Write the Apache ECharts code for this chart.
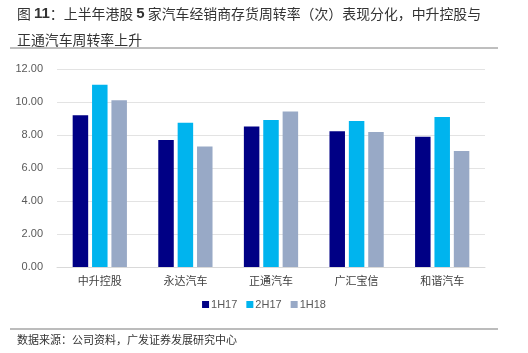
<!DOCTYPE html>
<html>
<head>
<meta charset="utf-8">
<script src="https://cdn.jsdelivr.net/npm/echarts@6/dist/echarts.min.js"></script>
<style>
html,body{margin:0;padding:0;background:#fff;}
#main{width:528px;height:353px;}
</style>
</head>
<body>
<div id="main"></div>
<script>
// 港股经销商存货周转率（次）
var categories = ['中升控股', '永达汽车', '正通汽车', '广汇宝信', '和谐汽车'];
var seriesNames = ['1H17', '2H17', '1H18'];
var v1H17 = [9.19, 7.70, 8.51, 8.22, 7.90];
var v2H17 = [11.05, 8.75, 8.91, 8.85, 9.09];
var v1H18 = [10.10, 7.30, 9.42, 8.18, 7.03];
var yTicks = [0, 2, 4, 6, 8, 10, 12];

var colors = ['#000085', '#00B4EE', '#98A9C6'];
var cjk = '"Noto Sans CJK SC", sans-serif';

var dom = document.getElementById('main');
var chart = echarts.init(dom);

function bar(name, data, i) {
	return {
		name: name,
		type: 'bar',
		data: data,
		barWidth: 15.5,
		barGap: '25%',
		itemStyle: { color: colors[i] }
	};
}

var option = {
	animation: false,
	title: {
		left: 17,
		top: 1,
		padding: 0,
		text: '图 {b|11}：上半年港股 {b|5} 家汽车经销商存货周转率（次）表现分化，中升控股与\n正通汽车周转率上升',
		textStyle: {
			fontFamily: cjk,
			fontSize: 13.9,
			fontWeight: 'normal',
			color: '#333',
			lineHeight: 26,
			rich: {
				b: { fontFamily: 'Liberation Sans', fontWeight: 'bold', fontSize: 15, color: '#333', lineHeight: 26 }
			}
		}
	},
	legend: {
		data: seriesNames,
		bottom: 38,
		left: 'center',
		itemWidth: 7,
		itemHeight: 7,
		itemGap: 9,
		icon: 'rect',
		textStyle: { fontFamily: 'Liberation Sans', fontSize: 11, color: '#595959', padding: [0, 0, 0, -3] }
	},
	grid: { left: 57, right: 43, top: 69, bottom: 86, containLabel: false },
	xAxis: {
		type: 'category',
		data: categories,
		axisTick: { show: false },
		axisLine: { lineStyle: { color: '#d9d9d9' } },
		axisLabel: { fontFamily: cjk, fontSize: 11, color: '#404040', margin: 8 }
	},
	yAxis: {
		type: 'value',
		min: yTicks[0],
		max: yTicks[yTicks.length - 1],
		interval: 2,
		axisLine: { show: false },
		axisTick: { show: false },
		splitLine: { lineStyle: { color: '#e3e3e3', width: 1 } },
		axisLabel: {
			fontFamily: 'Liberation Sans',
			fontSize: 11,
			color: '#595959',
			margin: 14,
			formatter: function (v) { return v.toFixed(2); }
		}
	},
	graphic: [
		{ type: 'line', shape: { x1: 10, y1: 48, x2: 498, y2: 48 }, style: { stroke: '#7f7f7f', lineWidth: 1 } },
		{ type: 'line', shape: { x1: 10, y1: 329, x2: 498, y2: 329 }, style: { stroke: '#a6a6a6', lineWidth: 1.5 } },
		{ type: 'text', left: 17, top: 334, style: { text: '数据来源：公司资料，广发证券发展研究中心', fontFamily: cjk, fontSize: 11, fill: '#333' } }
	],
	series: [
		bar(seriesNames[0], v1H17, 0),
		bar(seriesNames[1], v2H17, 1),
		bar(seriesNames[2], v1H18, 2)
	]
};
chart.setOption(option);
</script>
</body>
</html>
